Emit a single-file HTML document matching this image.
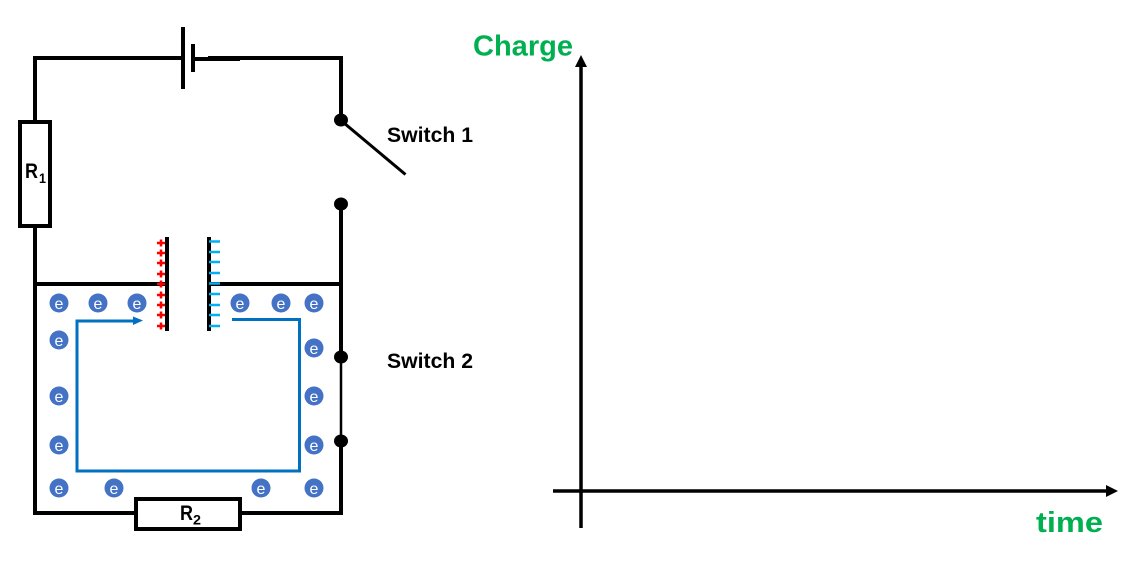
<!DOCTYPE html>
<html>
<head>
<meta charset="utf-8">
<style>
html,body{margin:0;padding:0;background:#fff;width:1137px;height:580px;overflow:hidden}
svg{display:block}
text{font-family:"Liberation Sans",sans-serif}
</style>
</head>
<body>
<svg width="1137" height="580" viewBox="0 0 1137 580" xmlns="http://www.w3.org/2000/svg">
<rect width="1137" height="580" fill="#fff"/>
<!-- main wires -->
<g fill="none" stroke="#000" stroke-width="4">
  <polyline points="183,58 35,58 35,122"/>
  <polyline points="208,58 341,58 341,120"/>
  <line x1="192" y1="59" x2="240" y2="59"/>
  <line x1="35" y1="226" x2="35" y2="515"/>
  <line x1="33" y1="513" x2="136" y2="513"/>
  <line x1="240" y1="513" x2="343" y2="513"/>
  <line x1="341" y1="204" x2="341" y2="357"/>
  <line x1="341" y1="441" x2="341" y2="515"/>
  <line x1="35" y1="284" x2="167" y2="284"/>
  <line x1="209" y1="284" x2="341" y2="284"/>
  <rect x="20" y="122" width="30" height="104" fill="#fff"/>
  <rect x="136" y="499" width="104" height="30" fill="#fff"/>
</g>
<line x1="341" y1="357" x2="341" y2="441" stroke="#000" stroke-width="2.500"/>
<line x1="344" y1="123" x2="405.500" y2="174.500" stroke="#000" stroke-width="3"/>
<!-- battery -->
<rect x="181" y="27" width="4" height="62" fill="#000"/>
<rect x="191" y="44" width="4" height="28" fill="#000"/>
<!-- switch dots -->
<g fill="#000">
  <ellipse cx="341" cy="120" rx="7" ry="6.500"/>
  <ellipse cx="341" cy="204" rx="7" ry="6.500"/>
  <ellipse cx="341" cy="357" rx="7" ry="6.500"/>
  <ellipse cx="341" cy="441" rx="7" ry="6.500"/>
</g>
<!-- capacitor plates -->
<rect x="165" y="237" width="4" height="94" fill="#000"/>
<rect x="207" y="237" width="4" height="94" fill="#000"/>
<!-- plus signs -->
<g stroke="#ff0000" stroke-width="2.500" fill="none">
  <path d="M157,243h8M161,239.500v7"/>
  <path d="M157,253h8M161,249.500v7"/>
  <path d="M157,263h8M161,259.500v7"/>
  <path d="M157,274h8M161,270.500v7"/>
  <path d="M157,284h8M161,280.500v7"/>
  <path d="M157,295h8M161,291.500v7"/>
  <path d="M157,305h8M161,301.500v7"/>
  <path d="M157,315h8M161,311.500v7"/>
  <path d="M157,326h8M161,322.500v7"/>
</g>
<!-- minus signs -->
<g stroke="#00b0f0" stroke-width="2.500" fill="none">
  <path d="M209,241.500h11M209,252h11M209,262h11M209,273h11M209,283.500h11M209,294h11M209,305h11M209,315h11M209,326h11"/>
</g>
<!-- blue path -->
<g fill="none" stroke="#0070c0" stroke-width="3">
  <polyline points="232,319.500 299.500,319.500 299.500,471 77,471 77,321 135,321"/>
</g>
<polygon points="143,320.500 133,316.500 133,325" fill="#0070c0"/>
<!-- electrons -->
<g fill="#4472c4">
  <circle cx="59" cy="303" r="9.500"/><circle cx="98" cy="303" r="9.500"/><circle cx="137" cy="303" r="9.500"/>
  <circle cx="240" cy="303" r="9.500"/><circle cx="281" cy="303" r="9.500"/><circle cx="314" cy="303" r="9.500"/>
  <circle cx="59" cy="340" r="9.500"/><circle cx="59" cy="396" r="9.500"/><circle cx="59" cy="445" r="9.500"/>
  <circle cx="59" cy="488" r="9.500"/><circle cx="114" cy="488" r="9.500"/><circle cx="261" cy="488" r="9.500"/>
  <circle cx="314" cy="488" r="9.500"/><circle cx="314" cy="348" r="9.500"/><circle cx="314" cy="396" r="9.500"/>
  <circle cx="314" cy="445" r="9.500"/>
</g>
<g fill="#fff" font-size="16" text-anchor="middle" style="font-family:'DejaVu Sans',sans-serif">
  <text x="59" y="309">e</text><text x="98" y="309">e</text><text x="137" y="309">e</text>
  <text x="240" y="309">e</text><text x="281" y="309">e</text><text x="314" y="309">e</text>
  <text x="59" y="346">e</text><text x="59" y="402">e</text><text x="59" y="451">e</text>
  <text x="59" y="494">e</text><text x="114" y="494">e</text><text x="261" y="494">e</text>
  <text x="314" y="494">e</text><text x="314" y="354">e</text><text x="314" y="402">e</text>
  <text x="314" y="451">e</text>
</g>
<!-- labels -->
<g fill="#000" font-weight="bold">
  <text x="25" y="178" font-size="21" textLength="13" lengthAdjust="spacingAndGlyphs">R</text>
  <text x="39" y="183" font-size="14" textLength="7" lengthAdjust="spacingAndGlyphs">1</text>
  <text x="180" y="520" font-size="21" textLength="13" lengthAdjust="spacingAndGlyphs">R</text>
  <text x="193" y="524.500" font-size="14" textLength="8" lengthAdjust="spacingAndGlyphs">2</text>
  <text x="387" y="142" font-size="21" textLength="86" lengthAdjust="spacingAndGlyphs">Switch 1</text>
  <text x="387" y="368" font-size="21" textLength="86" lengthAdjust="spacingAndGlyphs">Switch 2</text>
</g>
<g fill="#00b050" font-weight="bold">
  <text x="473" y="55.500" font-size="29" textLength="100" lengthAdjust="spacingAndGlyphs">Charge</text>
  <text x="1036" y="532" font-size="29" textLength="67" lengthAdjust="spacingAndGlyphs">time</text>
</g>
<!-- axes -->
<line x1="581" y1="66" x2="581" y2="528" stroke="#000" stroke-width="3.500"/>
<polygon points="581,55 575,67 587,67" fill="#000"/>
<line x1="553" y1="491" x2="1108" y2="491" stroke="#000" stroke-width="3.500"/>
<polygon points="1118,491 1106,485 1106,497" fill="#000"/>
</svg>
</body>
</html>
